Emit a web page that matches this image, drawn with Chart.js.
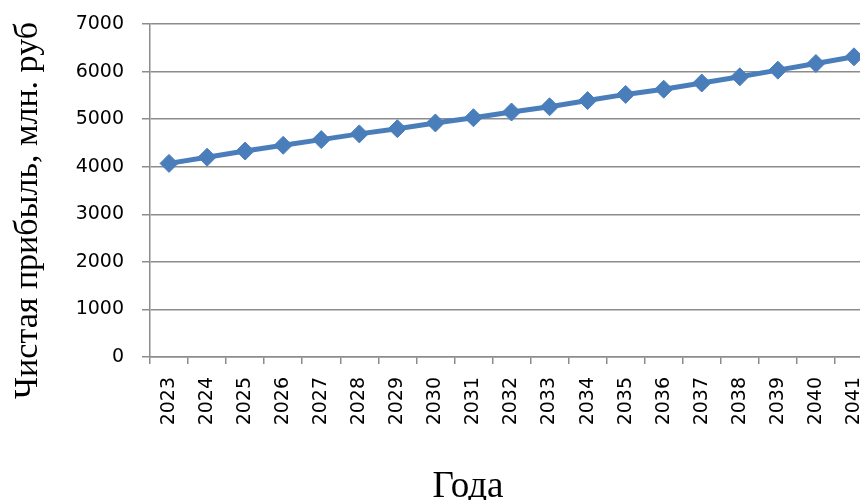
<!DOCTYPE html>
<html lang="ru">
<head>
<meta charset="utf-8">
<title>Чистая прибыль</title>
<script src="https://cdn.jsdelivr.net/npm/chart.js@4"></script>
<style>
  html, body { margin: 0; padding: 0; background: #ffffff; }
  #wrap { width: 860px; height: 500px; overflow: hidden; position: relative; }
  canvas { display: block; }
</style>
</head>
<body>
<div id="wrap"><canvas id="chart" width="883" height="500"></canvas></div>
<script>
// Годы прогноза
const years = ['2023', '2024', '2025', '2026', '2027', '2028', '2029', '2030', '2031', '2032',
               '2033', '2034', '2035', '2036', '2037', '2038', '2039', '2040', '2041'];
// Чистая прибыль, млн. руб
const netProfit = [4070, 4200, 4330, 4450, 4570, 4690, 4800, 4920, 5030, 5150,
                   5260, 5390, 5520, 5630, 5760, 5890, 6030, 6170, 6310];
// Деления оси значений
const yMin = 0, yMax = 7000, yStep = 1000;

const yTitle = 'Чистая прибыль, млн. руб';
const xTitle = 'Года';

const lineColor = '#4a7ebb';
const gridColor = '#8c8c8c';
const tickFont = { family: '"DejaVu Sans", sans-serif', size: 19 };
const yTitleFont = '34px "Liberation Serif", "Times New Roman", serif';
const xTitleFont = '37px "Liberation Serif", "Times New Roman", serif';

// Подписи осей рисуются отдельно, чтобы расположить их как в отчёте
const axisTitles = {
  id: 'axisTitles',
  afterDraw(chart) {
    const ctx = chart.ctx;
    const area = chart.chartArea;
    ctx.save();
    ctx.fillStyle = '#000000';
    ctx.textAlign = 'center';
    ctx.textBaseline = 'alphabetic';
    // вертикальная подпись
    ctx.font = yTitleFont;
    ctx.save();
    ctx.translate(37, (area.top + area.bottom) / 2 + 20);
    ctx.rotate(-Math.PI / 2);
    ctx.fillText(yTitle, 0, 0);
    ctx.restore();
    // горизонтальная подпись
    ctx.font = xTitleFont;
    ctx.fillText(xTitle, 468, 497);
    ctx.restore();
  }
};

new Chart(document.getElementById('chart'), {
  type: 'line',
  data: {
    labels: years,
    datasets: [{
      data: netProfit,
      borderColor: lineColor,
      backgroundColor: lineColor,
      borderWidth: 5,
      pointStyle: 'rectRot',
      pointRadius: 9,
      pointBorderWidth: 1,
      pointBackgroundColor: lineColor,
      pointBorderColor: lineColor,
      tension: 0,
      fill: false
    }]
  },
  options: {
    responsive: false,
    animation: false,
    devicePixelRatio: 1,
    layout: { padding: { top: 24, right: 0, left: 0, bottom: 0 } },
    plugins: {
      legend: { display: false },
      tooltip: { enabled: false },
      title: { display: false }
    },
    scales: {
      x: {
        type: 'category',
        offset: true,
        grid: {
          offset: true,
          drawOnChartArea: false,
          drawTicks: true,
          tickLength: 7,
          color: gridColor,
          lineWidth: 1.5
        },
        border: { display: true, color: gridColor, width: 1.5 },
        ticks: {
          color: '#000000',
          font: tickFont,
          autoSkip: false,
          minRotation: 90,
          maxRotation: 90,
          padding: 13
        },
        afterFit(scale) {
          scale.height = 143;
          scale.paddingLeft = 0;
          scale.paddingRight = 0;
        }
      },
      y: {
        min: yMin,
        max: yMax,
        grid: {
          color: gridColor,
          lineWidth: 1.5,
          drawTicks: true,
          tickLength: 8
        },
        border: { display: true, color: gridColor, width: 1.5 },
        ticks: {
          stepSize: yStep,
          color: '#000000',
          font: tickFont,
          padding: 18,
          callback: (v) => String(v)
        },
        afterFit(scale) {
          scale.width = 150;
          scale.paddingTop = 0;
          scale.paddingBottom = 0;
        }
      }
    }
  },
  plugins: [axisTitles]
});
</script>
</body>
</html>
